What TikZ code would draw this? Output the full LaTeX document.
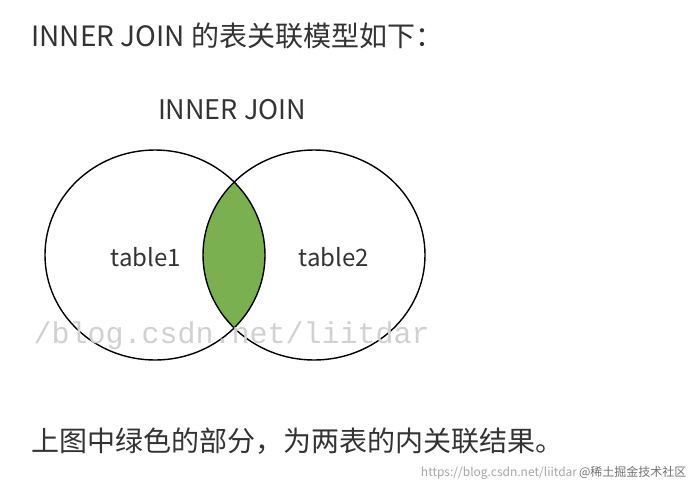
\documentclass[tikz,border=0pt]{standalone}
\usetikzlibrary{shapes.geometric}
\usepackage{fontspec}
\setmainfont{Noto Sans CJK SC}
\newfontfamily\wmono{Liberation Mono}
\definecolor{vgreen}{HTML}{7AB04F}
\begin{document}
\begin{tikzpicture}[x=1pt,y=-1pt,
  circ/.style={draw=black,line width=1.4pt},
  lbl/.style={font=\fontsize{24}{28}\selectfont,text=black!80}]
\useasboundingbox (0,0) rectangle (700,496);
\fill[white] (0,0) rectangle (700,496);
\node[anchor=west,font=\fontsize{28}{32}\selectfont,text=black!80] (title) at (28,36) {INNER JOIN 的表关联模型如下：};
\begin{scope}
  \clip (155,255) ellipse (110 and 105);
  \fill[vgreen] (314,255) ellipse (111 and 105);
\end{scope}
\node[circ,ellipse,minimum width=220,minimum height=210,inner sep=0] (left) at (155,255) {};
\node[circ,ellipse,minimum width=222,minimum height=210,inner sep=0] (right) at (314,255) {};
\node[font=\fontsize{27}{30}\selectfont,text=black!80] (head) at (232,110) {INNER JOIN};
\node[lbl] (t1) at (146,257) {table1};
\node[lbl] (t2) at (334,257) {table2};
\node[anchor=west,font=\wmono\fontsize{30}{32}\selectfont,text=black!18] (wm) at (30,336) {/blog.csdn.net/liitdar};
\node[anchor=west,font=\fontsize{28}{32}\selectfont,text=black!80] (foot) at (28,441) {上图中绿色的部分，为两表的内关联结果。};
\node[anchor=east,font=\fontsize{12}{14}\selectfont,text=black!35] (url) at (690,473) {https://blog.csdn.net/liitdar\,\textcolor{black!55}{@稀土掘金技术社区}};
\end{tikzpicture}
\end{document}
